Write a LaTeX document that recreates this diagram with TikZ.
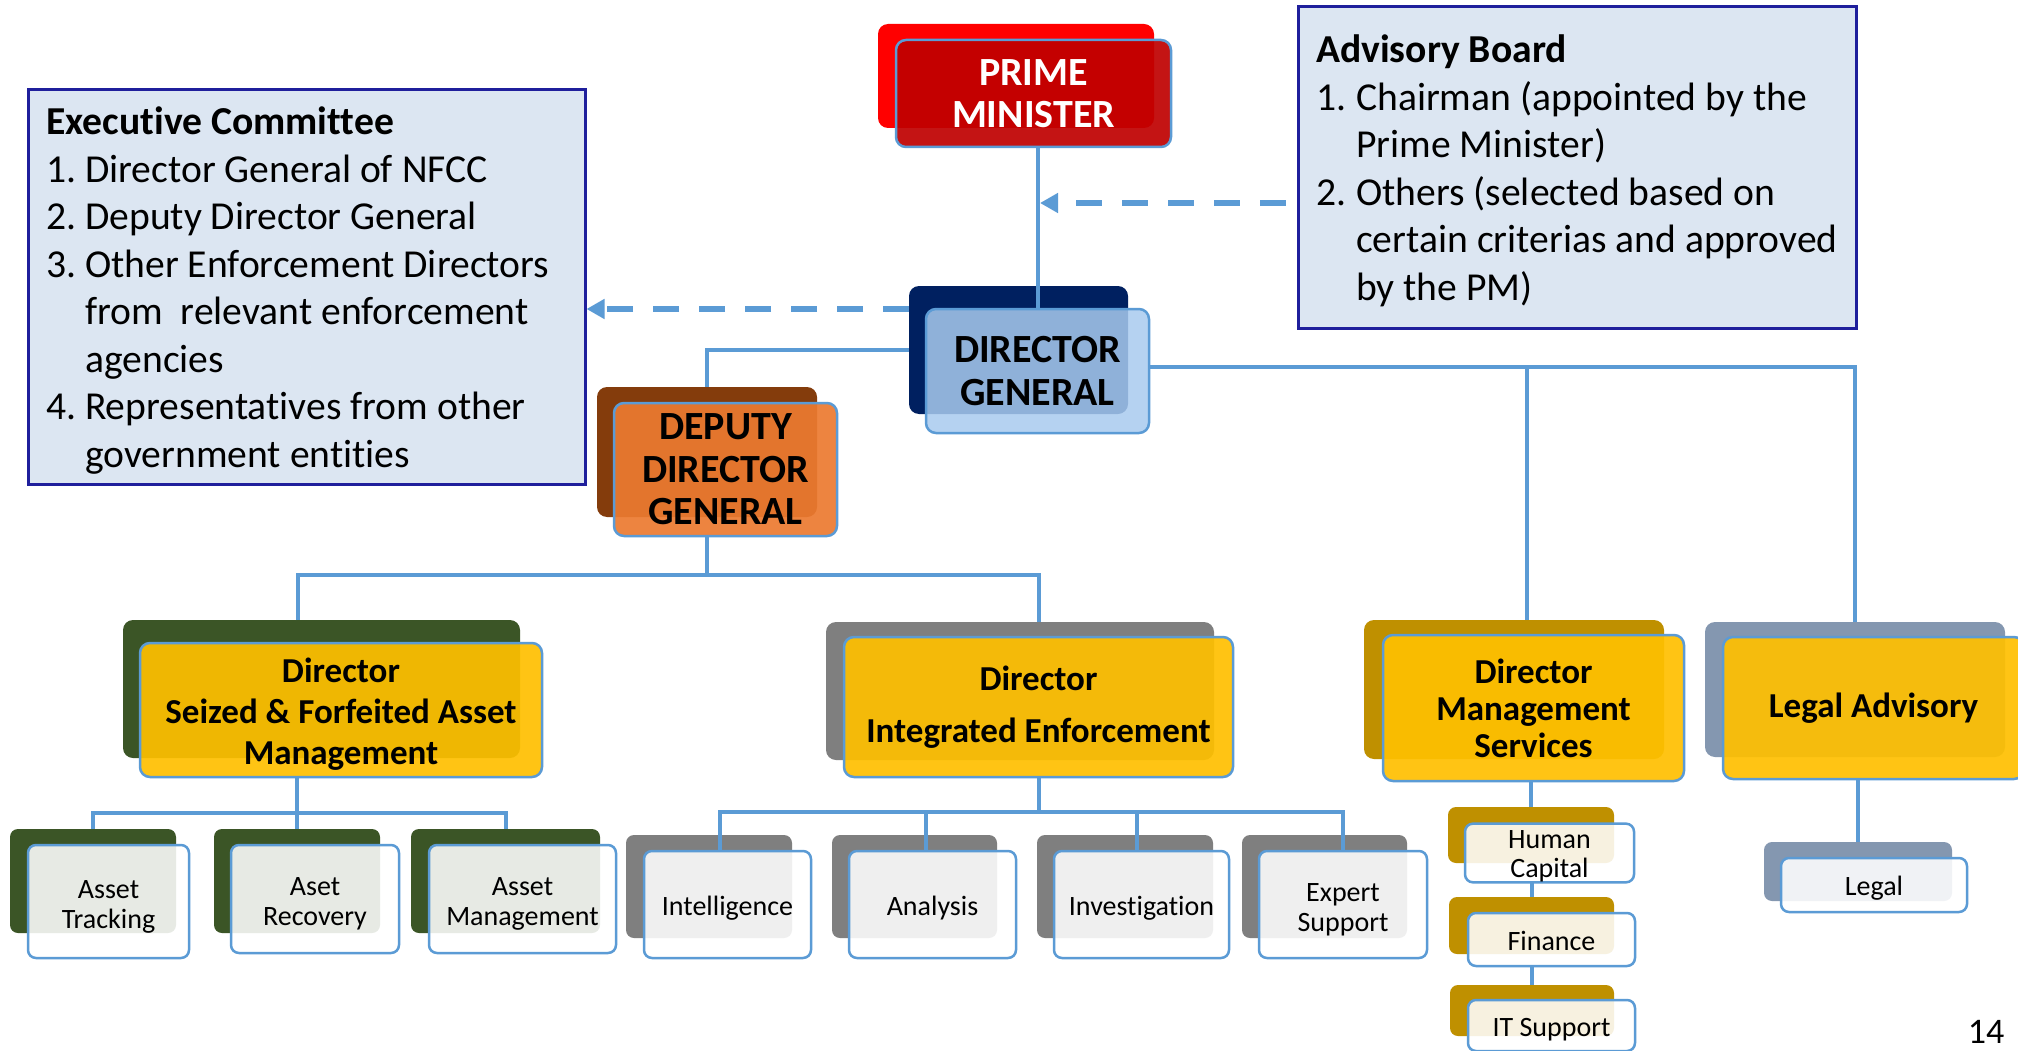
\documentclass[tikz,border=0pt]{standalone}
\usepackage{fontspec}
\setmainfont{Carlito}[Ligatures=NoCommon]
\usetikzlibrary{arrows.meta}
\definecolor{lineblue}{HTML}{5B9BD5}
\definecolor{pmred}{HTML}{FF0000}
\definecolor{pmfront}{HTML}{C00000}
\definecolor{dgnavy}{HTML}{002060}
\definecolor{dgfront}{HTML}{A9CBEF}
\definecolor{ddgbrown}{HTML}{843C0C}
\definecolor{ddgfront}{HTML}{EC7A30}
\definecolor{segreen}{HTML}{3B5526}
\definecolor{ingrey}{HTML}{7F7F7F}
\definecolor{msgold}{HTML}{BF9000}
\definecolor{lagrey}{HTML}{8497B0}
\definecolor{goldfront}{HTML}{FFC000}
\definecolor{boxfill}{HTML}{DCE6F2}
\definecolor{boxline}{HTML}{1F1F9C}
\pgfdeclarelayer{bg}
\pgfdeclarelayer{mid}
\pgfsetlayers{bg,mid,main}
\newcommand\topstrut[1][1em]{\rule{0pt}{#1}}
\tikzset{
  backbox/.style={rectangle, rounded corners=10pt, inner sep=0pt, outer sep=0pt},
  smallback/.style={rectangle, rounded corners=8pt, inner sep=0pt, outer sep=0pt},
  strutted/.style={execute at begin node={\rule{0pt}{1em}},
    execute at end node={\rule[-0.25em]{0pt}{0pt}}},
  frontbox/.style={rectangle, rounded corners=10pt, draw=lineblue, line width=2.5pt,
    fill opacity=0.92, text opacity=1, inner sep=0pt, outer sep=0pt, align=center},
  smallfront/.style={rectangle, rounded corners=8pt, draw=lineblue, line width=2.5pt,
    fill=white, fill opacity=0.88, text opacity=1, inner sep=0pt, outer sep=0pt, align=center,
    font=\fontsize{28}{30}\selectfont},
  topfont/.style={font=\bfseries\fontsize{40}{42.5}\selectfont},
  dirfont/.style={font=\bfseries\fontsize{35}{41}\selectfont},
  conn/.style={draw=lineblue, line width=4pt},
  dashconn/.style={draw=lineblue, line width=6pt, dash pattern=on 26pt off 20pt,
    -{Triangle[length=18pt,width=19pt]}},
  infobox/.style={rectangle, draw=boxline, line width=3pt, fill=boxfill, inner sep=0pt},
  infotext/.style={anchor=base west, align=left, inner sep=0pt, font=\fontsize{39.6}{47.5}\selectfont},
}
\begin{document}
\begin{tikzpicture}[x=1pt,y=-1pt]
\useasboundingbox (0,0) rectangle (2018,1051);
\begin{pgfonlayer}{bg}
\fill[white] (0,0) rectangle (2018,1051);
\end{pgfonlayer}

% info boxes
\node[infobox, minimum width=557pt, minimum height=394pt] (EC) at (306.5,287) {};
\node[infotext] (ECt) at (46,467) {\textbf{Executive Committee}\\
\makebox[39pt][l]{1.}Director General of NFCC\\
\makebox[39pt][l]{2.}Deputy Director General\\
\makebox[39pt][l]{3.}Other Enforcement Directors\\
\hspace*{39pt}from\ \ relevant enforcement\\
\hspace*{39pt}agencies\\
\makebox[39pt][l]{4.}Representatives from other\\
\hspace*{39pt}government entities};

\node[infobox, minimum width=558pt, minimum height=321pt] (AD) at (1577,167.5) {};
\node[infotext] (ADt) at (1316,300) {\textbf{Advisory Board}\\
\makebox[40pt][l]{1.}Chairman (appointed by the\\
\hspace*{40pt}Prime Minister)\\
\makebox[40pt][l]{2.}Others (selected based on\\
\hspace*{40pt}certain criterias and approved\\
\hspace*{40pt}by the PM)};

% back boxes
\begin{pgfonlayer}{bg}
\node[backbox, fill=pmred, minimum width=276pt, minimum height=104pt] (PMb) at (1016,76) {};
\node[backbox, fill=dgnavy, minimum width=219pt, minimum height=128pt] (DGb) at (1018.5,350) {};
\node[backbox, fill=ddgbrown, minimum width=220pt, minimum height=130pt] (DDGb) at (707,452) {};
\node[backbox, fill=segreen, minimum width=397pt, minimum height=138pt] (SEb) at (321.5,689) {};
\node[backbox, fill=ingrey, minimum width=388pt, minimum height=138pt] (INb) at (1020,691) {};
\node[backbox, fill=msgold, minimum width=300pt, minimum height=139pt] (MSb) at (1514,689.5) {};
\node[backbox, fill=lagrey, minimum width=300pt, minimum height=135pt] (LAb) at (1855,689.5) {};
\node[smallback, fill=segreen, minimum width=166pt, minimum height=104pt] (ATb) at (93,881) {};
\node[smallback, fill=segreen, minimum width=166pt, minimum height=104pt] (ARb) at (297,881) {};
\node[smallback, fill=segreen, minimum width=189pt, minimum height=104pt] (AMb) at (505.5,881) {};
\node[smallback, fill=ingrey, minimum width=166pt, minimum height=103pt] (ITLb) at (709,886.5) {};
\node[smallback, fill=ingrey, minimum width=165pt, minimum height=103pt] (ANb) at (914.5,886.5) {};
\node[smallback, fill=ingrey, minimum width=176pt, minimum height=103pt] (IVb) at (1125,886.5) {};
\node[smallback, fill=ingrey, minimum width=165pt, minimum height=103pt] (EXb) at (1324.5,886.5) {};
\node[smallback, fill=msgold, minimum width=166pt, minimum height=56pt] (HCb) at (1531,835) {};
\node[smallback, fill=msgold, minimum width=165pt, minimum height=57pt] (FIb) at (1531.5,925.5) {};
\node[smallback, fill=msgold, minimum width=164pt, minimum height=51pt] (ISb) at (1532,1010.5) {};
\node[smallback, fill=lagrey, minimum width=188pt, minimum height=59pt] (LGb) at (1858,871.5) {};
\end{pgfonlayer}

% front boxes
\node[frontbox, topfont, fill=pmfront, text=white, minimum width=275pt, minimum height=107pt] (PM) at (1033.5,93.5) {PRIME\\MINISTER};
\node[frontbox, topfont, fill=dgfront, fill opacity=0.85, minimum width=223pt, minimum height=124pt] (DG) at (1037.5,371) {DIRECTOR\\GENERAL};
\node[frontbox, topfont, fill=ddgfront, minimum width=223pt, minimum height=133pt] (DDG) at (725.5,469.5) {DEPUTY\\DIRECTOR\\GENERAL};
\node[frontbox, dirfont, fill=goldfront, minimum width=402pt, minimum height=134pt] (SE) at (341,710) {\topstrut[0.92em]Director\\Seized \& Forfeited Asset\\Management};
\node[frontbox, dirfont, fill=goldfront, minimum width=389pt, minimum height=140pt] (IN) at (1038.5,707) {Director\\[11pt]Integrated Enforcement};
\node[frontbox, fill=goldfront, font=\bfseries\fontsize{35}{37}\selectfont, minimum width=301pt, minimum height=146pt] (MS) at (1533.5,708) {Director\\Management\\Services};
\node[frontbox, dirfont, fill=goldfront, minimum width=301pt, minimum height=142pt] (LA) at (1873.5,708) {Legal Advisory};

\node[smallfront, minimum width=161pt, minimum height=113pt] (AT) at (108.5,901.5) {\topstrut Asset\\Tracking};
\node[smallfront, minimum width=168pt, minimum height=108pt] (AR) at (315,899) {\topstrut Aset\\Recovery};
\node[smallfront, minimum width=187pt, minimum height=108pt] (AM) at (522.5,899) {\topstrut Asset\\Management};
\node[smallfront, strutted, minimum width=167pt, minimum height=107pt] (ITL) at (727.5,904.5) {Intelligence};
\node[smallfront, strutted, minimum width=167pt, minimum height=107pt] (AN) at (932.5,904.5) {Analysis};
\node[smallfront, strutted, minimum width=175pt, minimum height=107pt] (IV) at (1141.5,904.5) {Investigation};
\node[smallfront, minimum width=168pt, minimum height=107pt] (EX) at (1343,904.5) {\topstrut Expert\\Support};
\node[smallfront, font=\fontsize{28}{29}\selectfont, minimum width=169pt, minimum height=56pt] (HC) at (1549.5,853) {\topstrut[0.9em]Human\\Capital};
\node[smallfront, strutted, minimum width=167pt, minimum height=53pt] (FI) at (1551.5,939.5) {Finance};
\node[smallfront, strutted, minimum width=167pt, minimum height=51pt] (IS) at (1551.5,1025.5) {IT Support};
\node[smallfront, strutted, minimum width=186pt, minimum height=54pt] (LG) at (1874,885) {Legal};

\node[inner sep=0pt, font=\fontsize{36}{40}\selectfont] (pg) at (1986,1032) {14};

% connectors
\coordinate (jd) at (707,575);
\coordinate (js) at (298,813);
\coordinate (ji) at (1038.5,812);
\coordinate (pmdg) at (1040,203);
\begin{pgfonlayer}{mid}
\draw[conn] (PM.south -| DG.north) -- (DG.north);
\draw[conn] (DGb.west) -| (DDGb.north);
\draw[conn] ([yshift=4pt]DG.east) -| (LAb.north);
\draw[conn] ([xshift=13pt]MSb.north) -- ([xshift=13pt,yshift=4pt]MSb.north |- DG.east);
\draw[conn] (DDG.south -| DDGb.south) -- (jd);
\draw[conn] ([xshift=-23.5pt]SEb.north) |- (IN.north |- jd) -- (IN.north |- INb.north);
\draw[conn] (ARb.north |- SE.south) -- (ARb.north);
\draw[conn] (ATb.north) |- (js) -| (AMb.north);
\draw[conn] (IN.south) -- (ji);
\draw[conn] ([xshift=-7.5pt]ITL.north) |- (ji) -| (EX.north);
\draw[conn] ([xshift=-6.5pt]AN.north) -- ([xshift=-6.5pt]AN.north |- ji);
\draw[conn] ([xshift=-4.5pt]IV.north) -- ([xshift=-4.5pt]IV.north |- ji);
\draw[conn] (MS.south -| HCb.north) -- (HCb.north);
\draw[conn] (HC.south -| FIb.north) -- (FIb.north);
\draw[conn] (FI.south -| ISb.north) -- (ISb.north);
\draw[conn] (LA.south -| LGb.north) -- (LGb.north);
\end{pgfonlayer}
\draw[dashconn, shorten <=11pt] (AD.west |- pmdg) -- (pmdg);
\draw[dashconn] (DGb.west |- DG.north) -- (EC.east |- DG.north);
\end{tikzpicture}
\end{document}
